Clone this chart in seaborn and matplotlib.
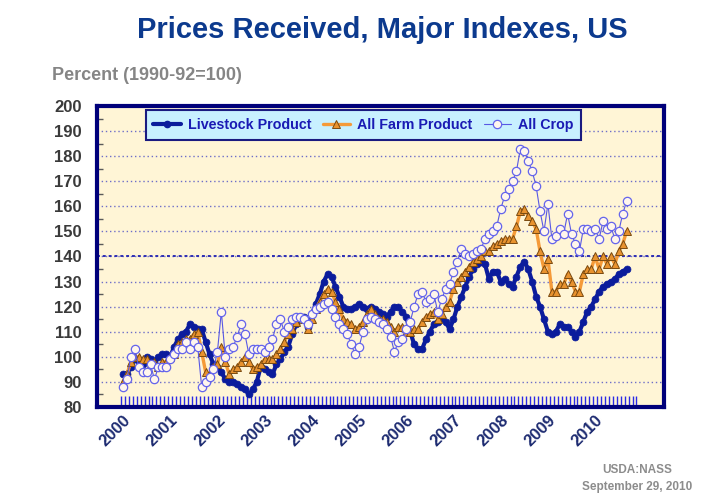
import matplotlib

matplotlib.use("Agg")

import matplotlib.pyplot as plt
import numpy as np
import pandas as pd
import seaborn as sns
from matplotlib.lines import Line2D

# Monthly index values, Jan 2000 - Sep 2010 (1990-92=100)
YEARS = [str(y) for y in range(2000, 2011)]

LIVESTOCK = [
    93, 93, 96, 99, 98, 97, 100, 99, 98, 100, 101, 101,        # 2000
    100, 104, 107, 109, 110, 113, 112, 111, 111, 106, 101, 97,  # 2001
    96, 94, 91, 90, 90, 89, 88, 87, 85, 87, 90, 96,             # 2002
    95, 94, 93, 97, 99, 102, 104, 109, 113, 116, 116, 112,      # 2003
    117, 121, 125, 130, 133, 132, 128, 124, 120, 119, 119, 120,  # 2004
    121, 120, 119, 120, 119, 118, 117, 116, 118, 120, 120, 118,  # 2005
    116, 110, 105, 103, 103, 107, 110, 113, 114, 115, 114, 111,  # 2006
    115, 120, 124, 128, 132, 135, 137, 138, 137, 131, 134, 134,  # 2007
    130, 131, 129, 128, 132, 136, 138, 135, 130, 124, 120, 115,  # 2008
    110, 109, 110, 113, 112, 112, 110, 108, 110, 114, 118, 120,  # 2009
    123, 126, 128, 129, 130, 131, 133, 134, 135,                # 2010
]

ALL_FARM = [
    90, 93, 98, 100, 100, 99, 99, 97, 98, 96, 98, 98,
    100, 101, 105, 106, 107, 107, 109, 110, 102, 94, 93, 96,
    97, 104, 98, 93, 95, 96, 98, 100, 98, 95, 96, 97,
    99, 99, 99, 101, 103, 106, 109, 111, 114, 116, 115, 111,
    115, 119, 122, 125, 127, 126, 122, 119, 115, 114, 113, 111,
    112, 114, 117, 119, 117, 115, 115, 114, 112, 110, 112, 112,
    110, 110, 111, 111, 114, 116, 117, 118, 115, 117, 120, 122,
    127, 130, 132, 134, 136, 138, 139, 140, 142, 142, 144, 145,
    146, 147, 147, 147, 152, 158, 159, 156, 154, 151, 142, 135,
    139, 126, 126, 129, 129, 133, 130, 126, 126, 133, 135, 135,
    140, 135, 140, 137, 140, 137, 142, 145, 150,
]

ALL_CROP = [
    88, 91, 100, 103, 96, 94, 94, 97, 91, 96, 96, 96,
    99, 101, 103, 103, 106, 103, 106, 104, 88, 90, 92, 95,
    102, 118, 100, 103, 104, 108, 113, 109, 101, 103, 103, 103,
    102, 104, 107, 113, 115, 110, 112, 115, 116, 116, 115, 113,
    117, 119, 120, 121, 122, 119, 116, 113, 111, 109, 105, 101,
    104, 110, 115, 116, 115, 114, 113, 111, 108, 102, 106, 107,
    111, 114, 120, 125, 126, 122, 123, 125, 118, 123, 127, 129,
    134, 138, 143, 141, 140, 141, 142, 143, 147, 149, 150, 152,
    159, 164, 167, 170, 174, 183, 182, 178, 174, 168, 158, 150,
    161, 147, 148, 151, 149, 157, 149, 145, 142, 151, 151, 150,
    151, 147, 154, 151, 152, 147, 150, 157, 162,
]

NAVY = "#0B1C9C"
ORANGE = "#F59A38"
CROP = "#5858E4"


def main() -> None:
    sns.set_theme(style="white")
    plt.rcParams["font.family"] = ["Liberation Sans", "DejaVu Sans"]

    months = pd.date_range("2000-01-01", periods=len(LIVESTOCK), freq="MS")
    df = pd.DataFrame(
        {
            "pos": np.arange(len(months)),
            "Livestock Product": LIVESTOCK,
            "All Farm Product": ALL_FARM,
            "All Crop": ALL_CROP,
        }
    )

    fig = plt.figure(figsize=(7.19, 5.03), dpi=100)
    ax = fig.add_axes([97 / 719, 1 - 407 / 503, 567 / 719, 301 / 503])
    ax.set_facecolor("#FFF5D6")

    sns.lineplot(
        data=df, x="pos", y="Livestock Product", ax=ax, color=NAVY, linewidth=3,
        marker="o", markersize=5, markerfacecolor=NAVY, markeredgecolor=NAVY,
        markeredgewidth=0.5, zorder=3,
    )
    sns.lineplot(
        data=df, x="pos", y="All Farm Product", ax=ax, color=ORANGE, linewidth=2.4,
        marker="^", markersize=6, markerfacecolor="#E8922E", markeredgecolor="#7A4A10",
        markeredgewidth=0.7, zorder=4,
    )
    sns.lineplot(
        data=df, x="pos", y="All Crop", ax=ax, color=CROP, linewidth=0.8,
        marker="o", markersize=6, markerfacecolor="#FFF6EC", markeredgecolor="#6464EC",
        markeredgewidth=0.9, zorder=5,
    )

    # axes limits, grid and ticks
    ax.set_ylim(80, 200)
    ax.set_xlim(-6.6, 137.5)
    ax.set_yticks(range(80, 201, 10))
    ax.set_yticks(np.arange(85, 200, 10), minor=True)
    ax.yaxis.grid(True, which="major", linestyle=(0, (1, 2)), color="#6E6EC8", linewidth=1)
    ax.axhline(140, linestyle=(0, (1.5, 1.5)), color="#2E2EB4", linewidth=1.4, zorder=1)
    ax.set_axisbelow(True)

    ax.set_xticks(np.arange(0, 121, 12))
    ax.set_xticklabels(YEARS)
    ax.set_xticks(np.arange(-0.5, 131, 1), minor=True)

    ax.tick_params(axis="y", which="major", length=0, pad=11, labelsize=12, labelcolor="#3A3A3A")
    ax.tick_params(axis="y", which="minor", direction="in", length=4, width=1, color="#5A5A5A", left=True)
    ax.tick_params(axis="x", which="major", length=0, pad=4, labelsize=12, labelcolor="#1C2A70")
    ax.tick_params(axis="x", which="minor", direction="in", length=8, width=1, color="#2A2AE6", bottom=True)
    for lab in ax.get_yticklabels():
        lab.set_fontweight("bold")
    for lab in ax.get_xticklabels():
        lab.set_fontweight("bold")
        lab.set_rotation(45)
        lab.set_ha("right")
        lab.set_va("top")
        lab.set_rotation_mode("anchor")

    for spine in ax.spines.values():
        spine.set_visible(True)
        spine.set_color("#00007A")
        spine.set_linewidth(3)

    ax.set_xlabel("")
    ax.set_ylabel("")

    handles = [
        Line2D([], [], color=NAVY, linewidth=3, marker="o", markersize=4.5, markerfacecolor=NAVY),
        Line2D([], [], color=ORANGE, linewidth=2.4, marker="^", markersize=6,
               markerfacecolor="#E8922E", markeredgecolor="#7A4A10", markeredgewidth=0.7),
        Line2D([], [], color=CROP, linewidth=0.8, marker="o", markersize=6,
               markerfacecolor="#FFF6EC", markeredgecolor="#6464EC", markeredgewidth=0.9),
    ]
    leg = ax.legend(
        handles, ["Livestock Product", "All Farm Product", "All Crop"],
        loc="upper center", bbox_to_anchor=(0.47, 0.987), borderaxespad=0, ncol=3,
        frameon=True, fancybox=False, facecolor="#C8F0FF", edgecolor="#1A1A80", framealpha=1,
        prop={"weight": "bold", "size": 10.3}, labelcolor="#1A1AB4",
        handlelength=1.9, columnspacing=0.8, borderpad=0.55, handletextpad=0.5,
    )
    leg.get_frame().set_linewidth(1.5)
    leg.set_zorder(10)

    # titles and notes
    fig.text(382 / 719, 1 - 30 / 503, "Prices Received, Major Indexes, US",
             ha="center", va="center", fontsize=21, fontweight="bold", color="#0C3A8E")
    fig.text(52 / 719, 1 - 76 / 503, "Percent (1990-92=100)", ha="left", va="center",
             fontsize=13, fontweight="bold", color="#858585")
    fig.text(637 / 719, 1 - 470 / 503, "USDA:NASS", ha="center", va="center",
             fontsize=8.5, fontweight="bold", color="#8C8C8C")
    fig.text(637 / 719, 1 - 487 / 503, "September 29, 2010", ha="center", va="center",
             fontsize=8.5, fontweight="bold", color="#8C8C8C")

    fig.savefig("out.png", dpi=100)
    plt.close(fig)


if __name__ == "__main__":
    main()
